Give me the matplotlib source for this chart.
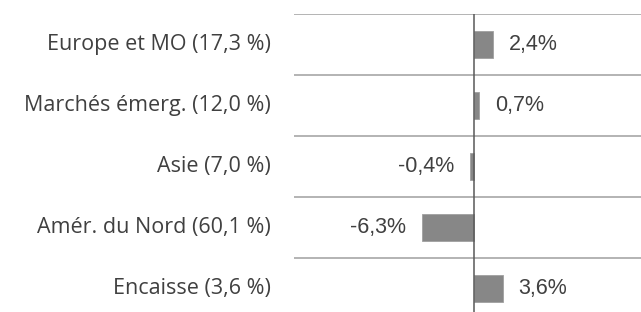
import matplotlib
matplotlib.use("Agg")
import matplotlib.pyplot as plt

# données
categories = ["Europe et MO (17,3 %)", "Marchés émerg. (12,0 %)", "Asie (7,0 %)",
              "Amér. du Nord (60,1 %)", "Encaisse (3,6 %)"]
values = [2.4, 0.7, -0.4, -6.3, 3.6]
value_labels = ["2,4%", "0,7%", "-0,4%", "-6,3%", "3,6%"]

W, H, DPI = 641, 312, 100
fig = plt.figure(figsize=(W / DPI, H / DPI), dpi=DPI)
# axe : haut a y=14px, rangées de 61px, bas coupé par la figure
top = 1 - 14 / H
bottom = 1 - (14 + 5 * 61) / H
ax = fig.add_axes([294 / W, bottom, 1 - 294 / W, top - bottom])

pos = list(range(len(categories)))
ax.barh(pos, values, height=0.44, color="#878787", edgecolor="#a0a0a0", linewidth=0.6, zorder=2)

ax.set_ylim(len(categories) - 0.5, -0.5)
ax.set_xlim(-(473.5 - 294) / 8.1, (641 - 473.5) / 8.1)

for i in range(len(categories)):
    ax.axhline(i - 0.5, color="#b3b3b3", lw=1.4, zorder=1)
ax.axvline(0, color="#595959", lw=1.1, zorder=3)

for i, (v, lab) in enumerate(zip(values, value_labels)):
    off = 11.5 if v >= 0 else -11.5
    ax.annotate(lab, (v, i), xytext=(off, 0), textcoords="offset points",
                ha="left" if v >= 0 else "right", va="center",
                fontsize=15.5, color="#404040", family="Liberation Sans")

# étiquettes des catégories
for i, c in enumerate(categories):
    ax.annotate(c, (0, i), xycoords=("axes fraction", "data"), xytext=(-17, 0),
                textcoords="offset points", ha="right", va="center",
                fontsize=15.5, color="#404040", family="Open Sans")

ax.set_xticks([])
ax.set_yticks([])
for s in ax.spines.values():
    s.set_visible(False)

fig.savefig("out.png", dpi=DPI)
